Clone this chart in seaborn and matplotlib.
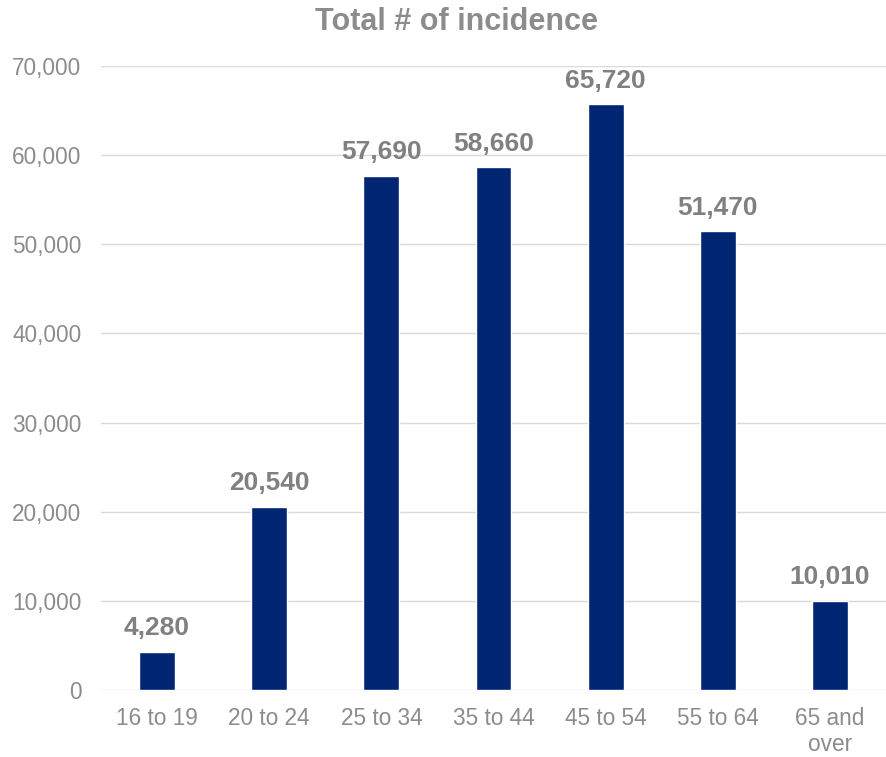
import matplotlib
matplotlib.use("Agg")
import matplotlib.pyplot as plt
import seaborn as sns
import pandas as pd

categories = ["16 to 19", "20 to 24", "25 to 34", "35 to 44", "45 to 54", "55 to 64", "65 and\nover"]
values = [4280, 20540, 57690, 58660, 65720, 51470, 10010]
yticks = [0, 10000, 20000, 30000, 40000, 50000, 60000, 70000]

sns.set_theme(style="white")
plt.rcParams['font.family'] = ['Liberation Sans', 'DejaVu Sans']

df = pd.DataFrame({"cat": categories, "val": values})
fig = plt.figure(figsize=(8.86, 7.57), dpi=100)
ax = fig.add_axes([0.114, 0.0885, 0.886, 0.8243])
sns.barplot(data=df, x="cat", y="val", color="#002673", saturation=1, width=0.32, ax=ax, zorder=3)

ax.set_ylim(0, 70000)
ax.set_xlim(-0.5, 6.5)
ax.set_yticks(yticks)
ax.set_yticklabels([f"{v:,}" for v in yticks])
ax.yaxis.grid(True, color="#d9d9d9", linewidth=1, zorder=0)
for s in ax.spines.values():
    s.set_visible(False)
ax.tick_params(axis="both", colors="#8c8c8c", labelsize=16.3, length=0)
ax.tick_params(axis="y", pad=14)
ax.tick_params(axis="x", pad=12)
ax.set_xlabel("")
ax.set_ylabel("")
for i, v in enumerate(values):
    ax.text(i, v + 1300, f"{v:,}", ha="center", va="bottom", fontsize=19, fontweight="bold", color="#808080")
fig.text(0.515, 0.971, "Total # of incidence", ha="center", va="center", fontsize=22, fontweight="bold", color="#8c8c8c")
fig.savefig("out.png", dpi=100)
